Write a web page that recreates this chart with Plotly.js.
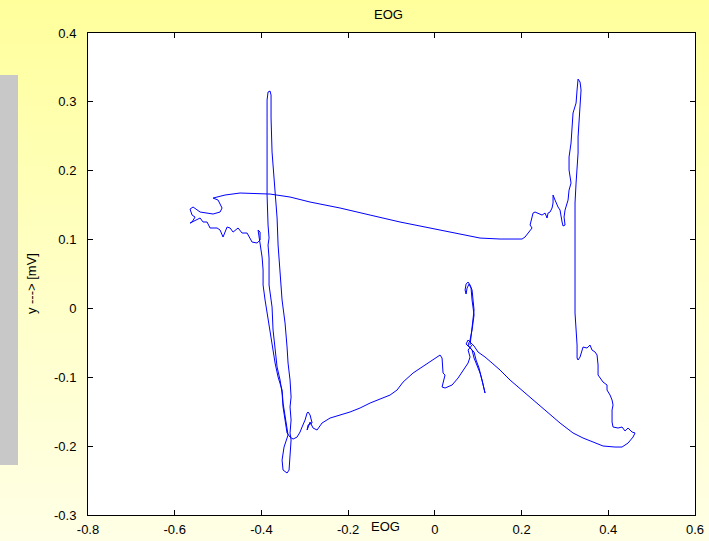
<!DOCTYPE html>
<html>
<head>
<meta charset="utf-8">
<script src="https://cdn.plot.ly/plotly-3.0.1.min.js"></script>
<style>
  html, body { margin: 0; padding: 0; }
  body { width: 709px; height: 541px; overflow: hidden;
         background: linear-gradient(to bottom, #FFFF9C 0%, #FFFFC8 55%, #FFFFE6 100%); position: relative; }
  #side { position: absolute; left: 0; top: 75px; width: 18px; height: 390px; background: #C8C8C8; }
  #chart { position: absolute; left: 0; top: 0; width: 709px; height: 541px; }
</style>
</head>
<body>
<div id="side"></div>
<div id="chart"></div>
<script>
// Central spike (start)
const spikeX = [0.0812,0.0858,0.0881,0.0904,0.0881,0.0858,0.0812,0.0766,0.0720,0.0697,0.0720,0.0743,0.0789,0.0835,0.0858,0.0904,0.0858,0.0812,0.0766,0.0858,0.0904,0.0973,0.1042,0.1089,0.1135,0.1158,0.1112,0.1066,0.1019,0.0950,0.0904,0.0812,0.0720,0.0766,0.0904,0.0996];
const spikeY = [-0.0532,-0.0314,-0.0168,-0.0023,0.0122,0.0267,0.0340,0.0383,0.0354,0.0267,0.0209,0.0296,0.0354,0.0296,0.0122,-0.0096,-0.0314,-0.0459,-0.0532,-0.0604,-0.0720,-0.0822,-0.0938,-0.1040,-0.1156,-0.1229,-0.1112,-0.0967,-0.0866,-0.0749,-0.0633,-0.0575,-0.0517,-0.0459,-0.0546,-0.0633];
// Right arc, right staircase, right vertical excursion
const rightX = [0.1158,0.1319,0.1504,0.1734,0.2080,0.2426,0.2657,0.2887,0.3187,0.3418,0.3649,0.3879,0.4156,0.4317,0.4456,0.4571,0.4617,0.4548,0.4456,0.4387,0.4317,0.4225,0.4110,0.4087,0.4087,0.4110,0.4087,0.4041,0.3971,0.3971,0.3879,0.3810,0.3764,0.3764,0.3741,0.3695,0.3625,0.3579,0.3510,0.3418,0.3395,0.3349,0.3303,0.3280,0.3280,0.3257,0.3233,0.3233,0.3233,0.3257,0.3280,0.3303,0.3303,0.3326,0.3349,0.3372,0.3349,0.3303,0.3280,0.3257,0.3187,0.3164,0.3141,0.3095,0.3095,0.3141,0.3095,0.3072,0.3049,0.3003,0.2980,0.3003,0.2957,0.2934,0.2887,0.2841,0.2772,0.2726,0.2726,0.2703,0.2657,0.2611,0.2588,0.2542,0.2472,0.2380,0.2311,0.2265,0.2242,0.2196,0.2242,0.2149,0.2080,0.2011];
const rightY = [-0.0706,-0.0793,-0.0895,-0.1040,-0.1229,-0.1417,-0.1548,-0.1664,-0.1809,-0.1882,-0.1940,-0.1998,-0.2013,-0.2013,-0.1955,-0.1868,-0.1809,-0.1795,-0.1737,-0.1780,-0.1722,-0.1737,-0.1722,-0.1650,-0.1475,-0.1403,-0.1330,-0.1258,-0.1185,-0.1112,-0.1069,-0.1011,-0.0967,-0.0822,-0.0677,-0.0633,-0.0604,-0.0532,-0.0575,-0.0561,-0.0619,-0.0706,-0.0749,-0.0720,-0.0532,-0.0314,-0.0067,0.0558,0.1531,0.1821,0.2010,0.2257,0.2489,0.2736,0.2983,0.3172,0.3288,0.3331,0.3172,0.2983,0.2838,0.2591,0.2402,0.2199,0.2010,0.1821,0.1719,0.1574,0.1531,0.1429,0.1327,0.1211,0.1197,0.1255,0.1429,0.1473,0.1574,0.1647,0.1531,0.1458,0.1400,0.1385,0.1313,0.1385,0.1356,0.1385,0.1400,0.1385,0.1327,0.1211,0.1168,0.1095,0.1037,0.1008];
// Upper horizontal sweep to the left
const topX = [0.1504,0.1042,0.0581,-0.0111,-0.0803,-0.1494,-0.2186,-0.2878,-0.3340,-0.3801,-0.4262,-0.4493,-0.4839,-0.5069,-0.5115];
const topY = [0.1008,0.1022,0.1080,0.1168,0.1255,0.1356,0.1458,0.1545,0.1618,0.1661,0.1676,0.1676,0.1647,0.1618,0.1603];
// Left hook and noisy segment
const hookX = [-0.5000,-0.4908,-0.4954,-0.5115,-0.5415,-0.5577,-0.5646,-0.5600,-0.5531,-0.5600,-0.5646,-0.5415,-0.5346,-0.5254,-0.5185,-0.5023,-0.4954,-0.4885,-0.4792,-0.4723,-0.4654,-0.4539,-0.4447,-0.4331,-0.4216,-0.4101,-0.4031,-0.4031,-0.4078,-0.4031,-0.3985,-0.3962,-0.3962];
const hookY = [0.1574,0.1458,0.1400,0.1371,0.1400,0.1473,0.1443,0.1356,0.1327,0.1255,0.1240,0.1313,0.1255,0.1255,0.1168,0.1168,0.1139,0.1037,0.1182,0.1168,0.1109,0.1168,0.1095,0.1095,0.0964,0.0950,0.0993,0.1109,0.1139,0.0950,0.0746,0.0558,0.0340];
// Left descent, rise to the top and descent again
const leftX = [-0.3916,-0.3870,-0.3801,-0.3732,-0.3685,-0.3616,-0.3524,-0.3501,-0.3455,-0.3409,-0.3386,-0.3478,-0.3524,-0.3501,-0.3409,-0.3363,-0.3340,-0.3316,
               -0.3340,-0.3316,-0.3340,-0.3316,-0.3340,-0.3386,-0.3409,-0.3455,-0.3524,-0.3570,-0.3616,-0.3639,-0.3685,-0.3709,-0.3755,-0.3778,-0.3778,-0.3801,
               -0.3847,-0.3870,-0.3870,-0.3870,-0.3847,-0.3824,-0.3847,-0.3824,-0.3824,-0.3755,-0.3732,-0.3685,-0.3639,-0.3570,-0.3524,-0.3501,-0.3455,-0.3409,-0.3340,-0.3270];
const leftY = [0.0122,-0.0067,-0.0314,-0.0561,-0.0793,-0.0996,-0.1185,-0.1374,-0.1577,-0.1722,-0.1838,-0.2013,-0.2202,-0.2347,-0.2390,-0.2347,-0.2158,-0.1911,
               -0.1809,-0.1621,-0.1432,-0.1287,-0.1040,-0.0793,-0.0561,-0.0212,0.0122,0.0529,0.0921,0.1313,0.1647,0.1894,0.2271,0.2765,0.3099,0.3157,
               0.3143,0.3026,0.2300,0.1647,0.1211,0.1022,0.0921,0.0732,0.0340,0.0020,-0.0314,-0.0648,-0.0851,-0.1040,-0.1229,-0.1432,-0.1621,-0.1809,-0.1868,-0.1897];
// Lower-left loop and return arc to the centre
const returnX = [-0.3178,-0.3109,-0.3063,-0.2994,-0.2947,-0.2924,-0.2878,-0.2832,-0.2924,-0.2947,-0.2878,-0.2809,-0.2717,-0.2602,-0.2417,-0.2186,-0.1956,-0.1725,-0.1494,-0.1264,-0.1033,-0.0872,-0.0733,-0.0503,-0.0226,-0.0065,0.0120,0.0166,0.0189,0.0235,0.0166,0.0235,0.0397,0.0535,0.0697,0.0766,0.0812,0.0766,0.0858];
const returnY = [-0.1868,-0.1795,-0.1722,-0.1621,-0.1519,-0.1504,-0.1548,-0.1664,-0.1693,-0.1766,-0.1650,-0.1737,-0.1766,-0.1664,-0.1592,-0.1548,-0.1504,-0.1446,-0.1374,-0.1316,-0.1258,-0.1185,-0.1069,-0.0938,-0.0822,-0.0749,-0.0677,-0.0720,-0.0938,-0.0967,-0.1141,-0.1156,-0.1112,-0.1011,-0.0866,-0.0793,-0.0706,-0.0604,-0.0532];

const xTickVals = [-0.8,-0.6,-0.4,-0.2,0,0.2,0.4,0.6];
const xTickText = ["-0.8","-0.6","-0.4","-0.2","0","0.2","0.4","0.6"];
const yTickVals = [-0.3,-0.2,-0.1,0,0.1,0.2,0.3,0.4];
const yTickText = ["-0.3","-0.2","-0.1","0","0.1","0.2","0.3","0.4"];

const eogX = [].concat(spikeX, rightX, topX, hookX, leftX, returnX);
const eogY = [].concat(spikeY, rightY, topY, hookY, leftY, returnY);

const font = {family: "Liberation Sans, Arial, sans-serif", size: 13, color: "#000"};

const trace = {
  x: eogX, y: eogY, type: "scatter", mode: "lines",
  line: {color: "#0000FF", width: 1},
  hoverinfo: "skip"
};

const axisCommon = {
  showgrid: false, zeroline: false,
  showline: true, linecolor: "#000", linewidth: 1, mirror: "ticks",
  ticks: "inside", ticklen: 5, tickwidth: 1, tickcolor: "#000",
  tickfont: font, tickmode: "array", automargin: false
};

const layout = {
  width: 709, height: 541,
  margin: {l: 88, r: 14, t: 33, b: 26},
  paper_bgcolor: "rgba(0,0,0,0)",
  plot_bgcolor: "#FFFFFF",
  showlegend: false,
  font: font,
  title: {text: "EOG", font: font, x: 0.548, xanchor: "center", y: 0.974, yanchor: "middle"},
  xaxis: Object.assign({}, axisCommon, {range: [-0.8, 0.6], tickvals: xTickVals, ticktext: xTickText, ticklabelstandoff: 2}),
  yaxis: Object.assign({}, axisCommon, {range: [-0.3, 0.4], tickvals: yTickVals, ticktext: yTickText, ticklabelstandoff: 8}),
  annotations: [
    {text: "EOG", xref: "x", yref: "paper", x: -0.115, y: -0.024, xanchor: "center", yanchor: "middle", showarrow: false, font: font},
    {text: "y ---> [mV]", xref: "paper", yref: "paper", x: -0.094, y: 0.481, xanchor: "center", yanchor: "middle", textangle: -90, showarrow: false, font: font}
  ]
};

Plotly.newPlot("chart", [trace], layout, {displayModeBar: false, staticPlot: true});
</script>
</body>
</html>
